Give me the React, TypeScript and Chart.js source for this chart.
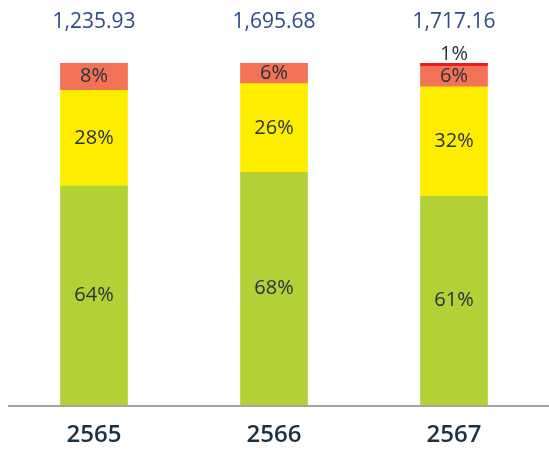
import React, { useEffect, useRef } from "react";
import { Chart, registerables } from "chart.js";

Chart.register(...registerables);

const categories = ["2565", "2566", "2567"];
const totals = ["1,235.93", "1,695.68", "1,717.16"];
const greenShare = [64, 68, 61];
const yellowShare = [28, 26, 32];
const orangeShare = [8, 6, 6];
const redShare = [0, 0, 1];

const labelPlugin = {
  id: "labels",
  afterDatasetsDraw(chart: any) {
    const ctx = chart.ctx;
    const area = chart.chartArea;
    ctx.save();
    // axis line
    ctx.strokeStyle = "#a3a3a3";
    ctx.lineWidth = 2;
    ctx.beginPath();
    ctx.moveTo(8, area.bottom + 1);
    ctx.lineTo(chart.width, area.bottom + 1);
    ctx.stroke();

    ctx.textAlign = "center";
    ctx.textBaseline = "middle";
    chart.data.datasets.forEach((ds: any, di: number) => {
      const meta = chart.getDatasetMeta(di);
      meta.data.forEach((bar: any, i: number) => {
        const v = ds.data[i];
        if (!v) return;
        ctx.fillStyle = "#26343d";
        ctx.font = "20px 'Open Sans'";
        if (v < 3) {
          ctx.fillText(v + "%", bar.x, bar.y - 9);
        } else {
          ctx.fillText(v + "%", bar.x, (bar.y + bar.base) / 2);
        }
      });
    });
    const meta0 = chart.getDatasetMeta(0);
    ctx.fillStyle = "#2f4b86";
    ctx.font = "21px 'Open Sans'";
    meta0.data.forEach((bar: any, i: number) => {
      ctx.fillText(totals[i], bar.x, 22);
    });
    const xScale = chart.scales.x;
    ctx.fillStyle = "#1c3142";
    ctx.font = "600 24px 'Open Sans'";
    categories.forEach((c, i) => {
      ctx.fillText(c, xScale.getPixelForValue(i), 435);
    });
    ctx.restore();
  },
};

export default function App() {
  const ref = useRef<HTMLCanvasElement>(null);
  useEffect(() => {
    document.body.style.margin = "0";
    const chart = new Chart(ref.current!, {
      type: "bar",
      data: {
        labels: categories,
        datasets: [
          { data: greenShare, backgroundColor: "#b1d136" },
          { data: yellowShare, backgroundColor: "#ffed00" },
          { data: orangeShare, backgroundColor: "#f37154" },
          { data: redShare, backgroundColor: "#ec1c24" },
        ],
      },
      options: {
        responsive: false,
        animation: false,
        layout: { padding: { top: 63, left: 4, right: 5, bottom: 48 } },
        datasets: { bar: { barThickness: 67 } },
        plugins: { legend: { display: false }, tooltip: { enabled: false } },
        scales: {
          x: { stacked: true, display: false },
          y: { stacked: true, display: false, min: 0, max: 100 },
        },
      },
      plugins: [labelPlugin],
    });
    return () => chart.destroy();
  }, []);
  return <canvas ref={ref} width={549} height={453} style={{ display: "block" }} />;
}
